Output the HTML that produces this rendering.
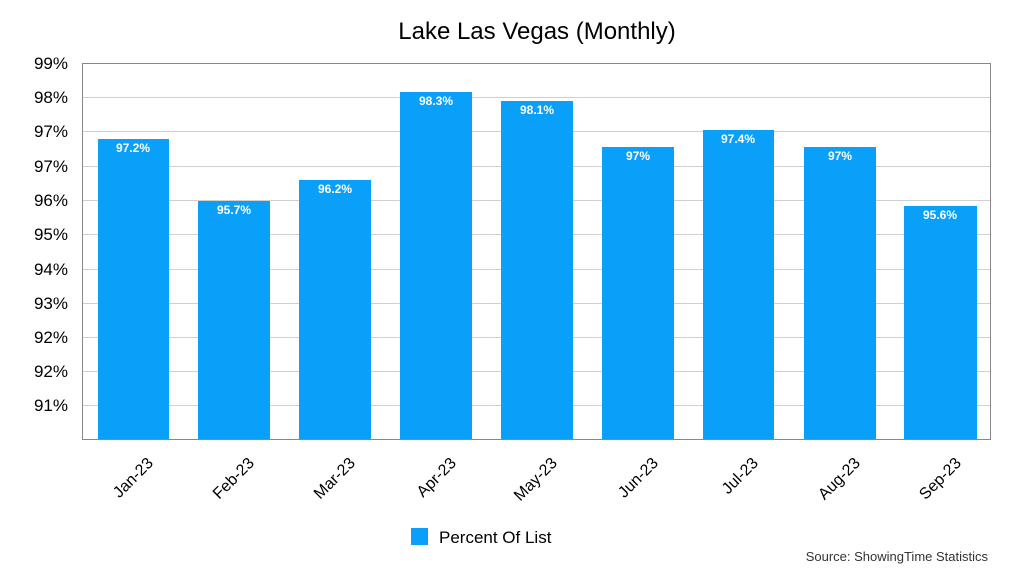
<!DOCTYPE html>
<html><head><meta charset="utf-8"><style>
body{margin:0;background:#fff;width:1024px;height:576px;overflow:hidden;font-family:"Liberation Sans",Arial,sans-serif}
</style></head><body>
<svg width="1024" height="576" xmlns="http://www.w3.org/2000/svg" font-family="Liberation Sans, Arial, sans-serif">
<text x="537" y="39" font-size="24" text-anchor="middle" fill="#000">Lake Las Vegas (Monthly)</text>
<g stroke="#d0d0d0" stroke-width="1">
<line x1="82" x2="991" y1="97.5" y2="97.5"/><line x1="82" x2="991" y1="131.5" y2="131.5"/>
<line x1="82" x2="991" y1="166.5" y2="166.5"/><line x1="82" x2="991" y1="200.5" y2="200.5"/>
<line x1="82" x2="991" y1="234.5" y2="234.5"/><line x1="82" x2="991" y1="269.5" y2="269.5"/>
<line x1="82" x2="991" y1="303.5" y2="303.5"/><line x1="82" x2="991" y1="337.5" y2="337.5"/>
<line x1="82" x2="991" y1="371.5" y2="371.5"/><line x1="82" x2="991" y1="405.5" y2="405.5"/>
</g>
<rect x="82.5" y="63.5" width="908" height="376" fill="none" stroke="#888" stroke-width="1"/>
<g font-size="17" fill="#000" text-anchor="end">
<text x="68" y="69">99%</text><text x="68" y="103">98%</text><text x="68" y="137">97%</text>
<text x="68" y="172">97%</text><text x="68" y="206">96%</text><text x="68" y="240">95%</text>
<text x="68" y="275">94%</text><text x="68" y="309">93%</text><text x="68" y="343">92%</text>
<text x="68" y="377">92%</text><text x="68" y="411">91%</text>
</g>
<g fill="#0aa0fa">
<rect x="98" y="139" width="71" height="300"/>
<rect x="198" y="201" width="72" height="238"/>
<rect x="299" y="180" width="72" height="259"/>
<rect x="400" y="92" width="72" height="347"/>
<rect x="501" y="101" width="72" height="338"/>
<rect x="602" y="147" width="72" height="292"/>
<rect x="703" y="130" width="71" height="309"/>
<rect x="804" y="147" width="72" height="292"/>
<rect x="904" y="206" width="73" height="233"/>
</g>
<g font-size="12" font-weight="bold" fill="#fff" text-anchor="middle">
<text x="133" y="152">97.2%</text><text x="234" y="214">95.7%</text><text x="335" y="193">96.2%</text>
<text x="436" y="105">98.3%</text><text x="537" y="114">98.1%</text><text x="638" y="160">97%</text>
<text x="738" y="143">97.4%</text><text x="840" y="160">97%</text><text x="940" y="219">95.6%</text>
</g>
<g font-size="16" fill="#000" text-anchor="end">
<text transform="translate(154,464) rotate(-45)">Jan-23</text>
<text transform="translate(255,464) rotate(-45)">Feb-23</text>
<text transform="translate(356,464) rotate(-45)">Mar-23</text>
<text transform="translate(457,464) rotate(-45)">Apr-23</text>
<text transform="translate(558,464) rotate(-45)">May-23</text>
<text transform="translate(659,464) rotate(-45)">Jun-23</text>
<text transform="translate(759,464) rotate(-45)">Jul-23</text>
<text transform="translate(861,464) rotate(-45)">Aug-23</text>
<text transform="translate(962,464) rotate(-45)">Sep-23</text>
</g>
<rect x="411" y="528" width="17" height="17" fill="#0aa0fa"/>
<text x="439" y="543" font-size="17" fill="#000">Percent Of List</text>
<text x="988" y="561" font-size="13" fill="#333" text-anchor="end">Source: ShowingTime Statistics</text>
</svg>
</body></html>
